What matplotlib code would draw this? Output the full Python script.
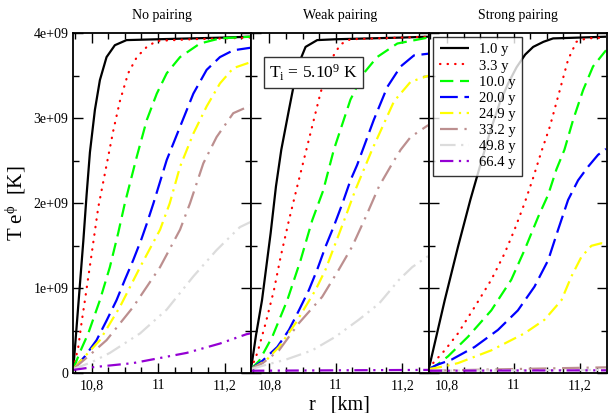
import matplotlib
matplotlib.use("Agg")
import matplotlib.pyplot as plt
from matplotlib.ticker import MultipleLocator, FuncFormatter
import numpy as np

plt.rcParams['font.family'] = ['Liberation Serif', 'DejaVu Serif']
plt.rcParams['mathtext.fontset'] = 'custom'
plt.rcParams['mathtext.rm'] = 'Liberation Serif'
plt.rcParams['mathtext.it'] = 'Liberation Serif:italic'

titles = ["No pairing", "Weak pairing", "Strong pairing"]
ages = ["1.0 y", "3.3 y", "10.0 y", "20.0 y", "24.9 y", "33.2 y", "49.8 y", "66.4 y"]

# ---- No pairing (T e^phi in 1e9 K) ----
np_r_1 = [10.745, 10.755, 10.765, 10.775, 10.785, 10.795, 10.81, 10.825, 10.845, 10.87, 10.905, 11.0, 11.1, 11.2, 11.278]
np_T_1 = [0.05, 0.55, 1.05, 1.55, 2.1, 2.6, 3.1, 3.45, 3.72, 3.86, 3.92, 3.93, 3.94, 3.95, 3.96]
np_r_2 = [10.745, 10.76, 10.77, 10.78, 10.80, 10.82, 10.845, 10.865, 10.885, 10.91, 10.936, 10.966, 10.996, 11.1, 11.2, 11.278]
np_T_2 = [0.05, 0.31, 0.6, 0.86, 1.4, 1.95, 2.45, 2.85, 3.2, 3.53, 3.72, 3.84, 3.91, 3.93, 3.94, 3.95]
np_r_3 = [10.745, 10.765, 10.79, 10.825, 10.855, 10.88, 10.90, 10.936, 10.966, 10.996, 11.026, 11.066, 11.126, 11.186, 11.278]
np_T_3 = [0.05, 0.25, 0.47, 0.86, 1.25, 1.65, 2.0, 2.55, 2.98, 3.29, 3.53, 3.72, 3.88, 3.94, 3.96]
np_r_4 = [10.745, 10.78, 10.815, 10.845, 10.875, 10.90, 10.925, 10.95, 10.966, 10.986, 11.026, 11.066, 11.106, 11.146, 11.186, 11.226, 11.278]
np_T_4 = [0.05, 0.2, 0.39, 0.62, 0.86, 1.1, 1.33, 1.58, 1.76, 2.0, 2.51, 2.9, 3.29, 3.57, 3.72, 3.8, 3.83]
np_r_5 = [10.745, 10.78, 10.825, 10.885, 10.946, 11.006, 11.035, 11.066, 11.106, 11.146, 11.186, 11.226, 11.278]
np_T_5 = [0.05, 0.2, 0.39, 0.78, 1.25, 1.69, 2.0, 2.43, 2.82, 3.14, 3.41, 3.59, 3.66]
np_r_6 = [10.745, 10.79, 10.845, 10.925, 11.006, 11.066, 11.096, 11.136, 11.176, 11.226, 11.278]
np_T_6 = [0.05, 0.2, 0.39, 0.78, 1.25, 1.69, 2.0, 2.47, 2.78, 3.06, 3.15]
np_r_7 = [10.745, 10.80, 10.855, 10.946, 11.026, 11.106, 11.176, 11.246, 11.278]
np_T_7 = [0.05, 0.13, 0.24, 0.47, 0.75, 1.14, 1.45, 1.72, 1.78]
np_r_8 = [10.745, 10.80, 10.925, 11.086, 11.186, 11.266, 11.278]
np_T_8 = [0.04, 0.07, 0.12, 0.24, 0.35, 0.46, 0.47]

# ---- Weak pairing ----
wp_r_1 = [10.745, 10.76, 10.778, 10.804, 10.82, 10.836, 10.859, 10.884, 10.909, 10.944, 11.0, 11.1, 11.2, 11.278]
wp_T_1 = [0.05, 0.45, 0.86, 1.65, 2.2, 2.63, 3.1, 3.6, 3.84, 3.92, 3.93, 3.94, 3.95, 3.96]
wp_r_2 = [10.745, 10.764, 10.789, 10.814, 10.834, 10.859, 10.884, 10.919, 10.954, 10.984, 11.014, 11.044, 11.2, 11.278]
wp_T_2 = [0.05, 0.24, 0.59, 0.98, 1.37, 1.8, 2.2, 2.75, 3.3, 3.68, 3.87, 3.93, 3.95, 3.96]
wp_r_3 = [10.745, 10.77, 10.809, 10.854, 10.894, 10.929, 10.962, 10.994, 11.044, 11.084, 11.124, 11.185, 11.278]
wp_T_3 = [0.05, 0.15, 0.43, 0.86, 1.33, 1.8, 2.15, 2.63, 3.22, 3.53, 3.72, 3.88, 3.95]
wp_r_4 = [10.745, 10.78, 10.824, 10.859, 10.889, 10.919, 10.944, 10.969, 10.994, 11.02, 11.044, 11.064, 11.114, 11.155, 11.195, 11.235, 11.278]
wp_T_4 = [0.05, 0.15, 0.31, 0.51, 0.74, 0.98, 1.22, 1.49, 1.73, 2.0, 2.27, 2.45, 2.98, 3.37, 3.61, 3.74, 3.76]
wp_r_5 = [10.745, 10.79, 10.829, 10.879, 10.939, 10.969, 10.999, 11.029, 11.059, 11.109, 11.175, 11.225, 11.278]
wp_T_5 = [0.05, 0.15, 0.31, 0.59, 0.98, 1.22, 1.53, 1.84, 2.16, 2.63, 3.2, 3.43, 3.5]
wp_r_6 = [10.745, 10.78, 10.829, 10.889, 10.959, 11.009, 11.049, 11.09, 11.13, 11.17, 11.195, 11.225, 11.278]
wp_T_6 = [0.05, 0.12, 0.27, 0.59, 0.9, 1.22, 1.49, 1.84, 2.2, 2.47, 2.63, 2.78, 2.92]
wp_r_7 = [10.745, 10.79, 10.849, 10.929, 10.999, 11.069, 11.13, 11.19, 11.23, 11.278]
wp_T_7 = [0.05, 0.1, 0.16, 0.27, 0.43, 0.63, 0.82, 1.1, 1.25, 1.38]
wp_r_8 = [10.745, 11.0, 11.278]
wp_T_8 = [0.03, 0.035, 0.04]

# ---- Strong pairing ----
sp_r_1 = [10.745, 10.793, 10.833, 10.87, 10.9, 10.93, 10.96, 10.985, 11.009, 11.035, 11.059, 11.09, 11.119, 11.2, 11.278]
sp_T_1 = [0.05, 0.86, 1.49, 2.04, 2.45, 2.85, 3.2, 3.42, 3.6, 3.75, 3.84, 3.9, 3.94, 3.95, 3.96]
sp_r_2 = [10.745, 10.758, 10.793, 10.833, 10.883, 10.933, 10.973, 11.003, 11.033, 11.059, 11.083, 11.109, 11.139, 11.164, 11.189, 11.219, 11.278]
sp_T_2 = [0.05, 0.12, 0.27, 0.47, 0.78, 1.1, 1.41, 1.69, 2.0, 2.3, 2.6, 2.9, 3.33, 3.69, 3.9, 3.94, 3.95]
sp_r_3 = [10.745, 10.77, 10.803, 10.863, 10.933, 10.993, 11.033, 11.074, 11.104, 11.129, 11.153, 11.179, 11.209, 11.239, 11.278]
sp_T_3 = [0.05, 0.1, 0.2, 0.43, 0.74, 1.1, 1.45, 1.84, 2.1, 2.4, 2.63, 2.98, 3.33, 3.61, 3.8]
sp_r_4 = [10.745, 10.77, 10.813, 10.883, 10.953, 11.013, 11.063, 11.104, 11.134, 11.164, 11.194, 11.224, 11.254, 11.278]
sp_T_4 = [0.05, 0.1, 0.16, 0.31, 0.51, 0.74, 1.02, 1.33, 1.69, 2.04, 2.27, 2.43, 2.57, 2.64]
sp_r_5 = [10.745, 10.79, 10.833, 10.933, 11.033, 11.093, 11.144, 11.174, 11.204, 11.234, 11.264, 11.278]
sp_T_5 = [0.05, 0.08, 0.12, 0.27, 0.47, 0.63, 0.86, 1.14, 1.37, 1.5, 1.53, 1.52]
sp_r_6 = [10.745, 11.0, 11.278]
sp_T_6 = [0.03, 0.05, 0.07]
sp_r_7 = [10.745, 11.0, 11.278]
sp_T_7 = [0.03, 0.035, 0.04]
sp_r_8 = [10.745, 11.0, 11.278]
sp_T_8 = [0.03, 0.033, 0.035]

panels = [
    [(np_r_1, np_T_1), (np_r_2, np_T_2), (np_r_3, np_T_3), (np_r_4, np_T_4),
     (np_r_5, np_T_5), (np_r_6, np_T_6), (np_r_7, np_T_7), (np_r_8, np_T_8)],
    [(wp_r_1, wp_T_1), (wp_r_2, wp_T_2), (wp_r_3, wp_T_3), (wp_r_4, wp_T_4),
     (wp_r_5, wp_T_5), (wp_r_6, wp_T_6), (wp_r_7, wp_T_7), (wp_r_8, wp_T_8)],
    [(sp_r_1, sp_T_1), (sp_r_2, sp_T_2), (sp_r_3, sp_T_3), (sp_r_4, sp_T_4),
     (sp_r_5, sp_T_5), (sp_r_6, sp_T_6), (sp_r_7, sp_T_7), (sp_r_8, sp_T_8)],
]

colors = ["#000000", "#ff0000", "#00ff00", "#0000ff", "#ffff00", "#bc8f8f", "#dcdcdc", "#9400d3"]
styles = ["-", (0, (0.2, 3.2)), (0, (6, 3)), (0, (8, 3)), (0, (6, 2.5, 1, 2.5)),
          (0, (8, 3, 1, 3)), (0, (7, 2.5, 1, 2.5, 1, 2.5)), (0, (6, 2.5, 1, 2.5, 1, 2.5))]
caps = ["butt", "round", "butt", "butt", "butt", "butt", "butt", "butt"]

fig = plt.figure(figsize=(6.08, 4.13), dpi=100)
W, H = 608.0, 413.0
left_px, right_px = 73.3, 606.5
bottom_px, top_px = 373.3, 33.3
pw = (right_px - left_px) / 3

xfmt = FuncFormatter(lambda v, p: ("%g" % round(v, 3)).replace(".", ","))
yfmt = FuncFormatter(lambda v, p: "0" if abs(v) < 1 else "%.0e" % v)

axes = []
for i in range(3):
    ax = fig.add_axes([(left_px + i * pw) / W, 1 - bottom_px / H, pw / W, (bottom_px - top_px) / H])
    axes.append(ax)
    for k, (r, T) in enumerate(panels[i]):
        ax.plot(r, np.array(T) * 1e9, color=colors[k], linestyle=styles[k], lw=1.6,
                label=ages[k], solid_capstyle='butt', dash_capstyle=caps[k])
    ax.set_xlim(10.745, 11.2795)
    ax.set_ylim(0, 4e9)
    ax.xaxis.set_major_locator(MultipleLocator(0.2))
    ax.xaxis.set_minor_locator(MultipleLocator(0.05))
    ax.yaxis.set_major_locator(MultipleLocator(1e9))
    ax.yaxis.set_minor_locator(MultipleLocator(0.5e9))
    ax.xaxis.set_major_formatter(xfmt)
    ax.yaxis.set_major_formatter(yfmt)
    ax.tick_params(which='both', direction='in', top=True, right=True, labelsize=10, width=1.0)
    ax.tick_params(which='major', length=7)
    ax.tick_params(which='minor', length=4)
    ax.tick_params(axis='x', pad=4)
    if i > 0:
        ax.tick_params(labelleft=False)
    for s in ax.spines.values():
        s.set_linewidth(1.3)
    ax.set_title(titles[i], fontsize=10, pad=10)

axes[0].set_ylabel(r"T e$^{\mathregular{\phi}}$  [K]", fontsize=15, labelpad=4)
fig.text(339 / W, 1 - 405 / H, "r   [km]", fontsize=14.5, ha='center', va='center')

axes[1].text(0.35, 0.885, r"T$_\mathregular{i}$ = 5.10$^\mathregular{9}$ K", transform=axes[1].transAxes,
             fontsize=12.5, ha='center', va='center',
             bbox=dict(boxstyle='square,pad=0.3', facecolor='white', edgecolor='#333333', lw=1.0))

leg = axes[2].legend(loc='upper left', bbox_to_anchor=(0.025, 0.99), fontsize=10.5, frameon=True,
                     fancybox=False, handlelength=2.0, handletextpad=0.7, labelspacing=0.2,
                     borderpad=0.45, borderaxespad=0.0)
leg.get_frame().set_edgecolor('black')
leg.get_frame().set_linewidth(1.0)

fig.savefig("out.png", dpi=100)
